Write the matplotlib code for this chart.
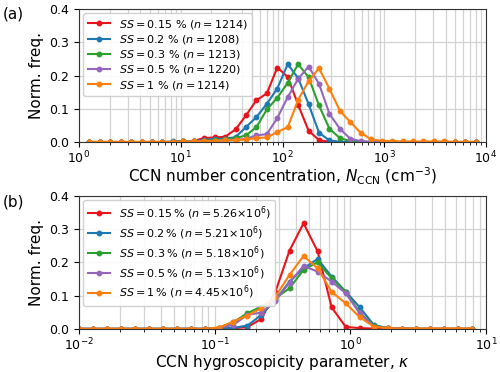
import numpy as np
import matplotlib
matplotlib.use("Agg")
import matplotlib.pyplot as plt

# ---------------- data ----------------
# panel (a): N_CCN bins (points k=1..38 of a 40-point log grid 1..1e4)
x_a = np.logspace(0, 4, 40)[1:39]

ss_a_red = [0, 0, 0, 0, 0, 0, 0, 0, 0, 0.002, 0.004, 0.012, 0.014, 0.016, 0.038,
            0.080, 0.126, 0.146, 0.224, 0.196, 0.112, 0.034, 0.006, 0.001,
            0, 0, 0, 0, 0, 0, 0, 0, 0, 0, 0, 0, 0, 0]
ss_a_blue = [0, 0, 0, 0, 0, 0, 0, 0, 0.002, 0.003, 0.003, 0.006, 0.010, 0.010, 0.015,
             0.045, 0.075, 0.115, 0.161, 0.234, 0.192, 0.114, 0.028, 0.005, 0.001,
             0, 0, 0, 0, 0, 0, 0, 0, 0, 0, 0, 0, 0]
ss_a_green = [0, 0, 0, 0, 0, 0, 0, 0, 0, 0.002, 0.002, 0.004, 0.006, 0.008, 0.012,
              0.020, 0.045, 0.098, 0.133, 0.178, 0.234, 0.195, 0.110, 0.040, 0.012,
              0.003, 0.001, 0, 0, 0, 0, 0, 0, 0, 0, 0, 0, 0]
ss_a_purple = [0, 0, 0, 0, 0, 0, 0, 0, 0, 0, 0.002, 0.003, 0.004, 0.005, 0.006,
               0.010, 0.020, 0.024, 0.072, 0.135, 0.190, 0.227, 0.175, 0.085, 0.040,
               0.010, 0.003, 0.001, 0, 0, 0, 0, 0, 0, 0, 0, 0, 0]
ss_a_orange = [0.001, 0.001, 0.001, 0.001, 0.001, 0.001, 0.001, 0.001, 0.001, 0.002,
               0.002, 0.003, 0.004, 0.005, 0.006, 0.008, 0.012, 0.014, 0.030, 0.045,
               0.127, 0.183, 0.222, 0.160, 0.094, 0.060, 0.028, 0.008, 0.004, 0.003,
               0.002, 0.002, 0.002, 0.002, 0.002, 0.001, 0.001, 0.001]

labels_a = [r'$SS=0.15$ % ($n=1214$)',
            r'$SS=0.2$ % ($n=1208$)',
            r'$SS=0.3$ % ($n=1213$)',
            r'$SS=0.5$ % ($n=1220$)',
            r'$SS=1$ % ($n=1214$)']

# panel (b): kappa bins (points k=0..28 of a 30-point log grid 0.01..10)
x_b = np.logspace(-2, 1, 30)[0:29]

kb_red = [0, 0, 0, 0, 0, 0, 0, 0, 0, 0, 0.001, 0.002, 0.005, 0.030, 0.112, 0.235,
          0.317, 0.233, 0.065, 0.006, 0.002, 0.001, 0, 0, 0, 0, 0, 0, 0]
kb_blue = [0, 0, 0, 0, 0, 0, 0, 0, 0, 0, 0.001, 0.003, 0.010, 0.042, 0.087, 0.142,
           0.182, 0.210, 0.157, 0.112, 0.065, 0.012, 0.002, 0.001, 0, 0, 0, 0, 0]
kb_green = [0, 0, 0, 0, 0, 0, 0, 0, 0, 0, 0.004, 0.020, 0.047, 0.067, 0.092, 0.122,
            0.177, 0.200, 0.152, 0.112, 0.049, 0.010, 0.002, 0.001, 0, 0, 0, 0, 0]
kb_purple = [0, 0, 0, 0, 0, 0, 0, 0, 0, 0, 0.003, 0.012, 0.042, 0.049, 0.085, 0.139,
             0.189, 0.172, 0.142, 0.107, 0.047, 0.007, 0.002, 0.001, 0, 0, 0, 0, 0]
kb_orange = [0, 0, 0, 0, 0, 0, 0, 0, 0, 0, 0.004, 0.022, 0.040, 0.062, 0.097, 0.162,
             0.219, 0.182, 0.111, 0.077, 0.035, 0.007, 0.002, 0.001, 0.001, 0.001,
             0.001, 0.001, 0.001]

labels_b = [r'$SS=0.15\,\%$ ($n=5.26{\times}10^{6}$)',
            r'$SS=0.2\,\%$ ($n=5.21{\times}10^{6}$)',
            r'$SS=0.3\,\%$ ($n=5.18{\times}10^{6}$)',
            r'$SS=0.5\,\%$ ($n=5.13{\times}10^{6}$)',
            r'$SS=1\,\%$ ($n=4.45{\times}10^{6}$)']

colors = ['#e8141c', '#1f77b4', '#2ca02c', '#9467bd', '#ff7f0e']

# ---------------- figure ----------------
fig = plt.figure(figsize=(5.0, 3.72), dpi=100)
ax_a = fig.add_axes([0.158, 0.618, 0.814, 0.358])
ax_b = fig.add_axes([0.158, 0.116, 0.814, 0.358])

series_a = [ss_a_red, ss_a_blue, ss_a_green, ss_a_purple, ss_a_orange]
series_b = [kb_red, kb_blue, kb_green, kb_purple, kb_orange]

for ax, xs, series, labels in [(ax_a, x_a, series_a, labels_a),
                               (ax_b, x_b, series_b, labels_b)]:
    for ys, c, lab in zip(series, colors, labels):
        ax.plot(xs, ys, '-o', color=c, lw=1.5, ms=3.2, label=lab)
    ax.set_xscale('log')
    ax.set_ylim(0, 0.4)
    ax.set_yticks([0.0, 0.1, 0.2, 0.3, 0.4])
    ax.set_yticklabels(['0.0', '0.1', '0.2', '0.3', '0.4'])
    ax.grid(True, which='both', color='#d3d3d3', lw=0.9)
    ax.set_axisbelow(True)
    ax.tick_params(labelsize=9)
    ax.tick_params(axis='x', pad=2)
    ax.set_ylabel('Norm. freq.', fontsize=11, labelpad=4)
    for s in ax.spines.values():
        s.set_color('#333333')
    ax.legend(loc='upper left', fontsize=8, handlelength=2.0,
              labelspacing=0.2, borderpad=0.4, handletextpad=0.8,
              borderaxespad=0.4, framealpha=0.9)

ax_a.set_xlim(1, 1e4)
ax_b.set_xlim(1e-2, 1e1)
ax_a.set_xlabel(r'CCN number concentration, $N_{\mathrm{CCN}}$ (cm$^{-3}$)',
                fontsize=11, labelpad=0)
ax_b.set_xlabel(r'CCN hygroscopicity parameter, $\kappa$', fontsize=11, labelpad=0)

fig.text(0.005, 0.962, '(a)', fontsize=11, va='center')
fig.text(0.005, 0.458, '(b)', fontsize=11, va='center')

fig.savefig('out.png', dpi=100)
